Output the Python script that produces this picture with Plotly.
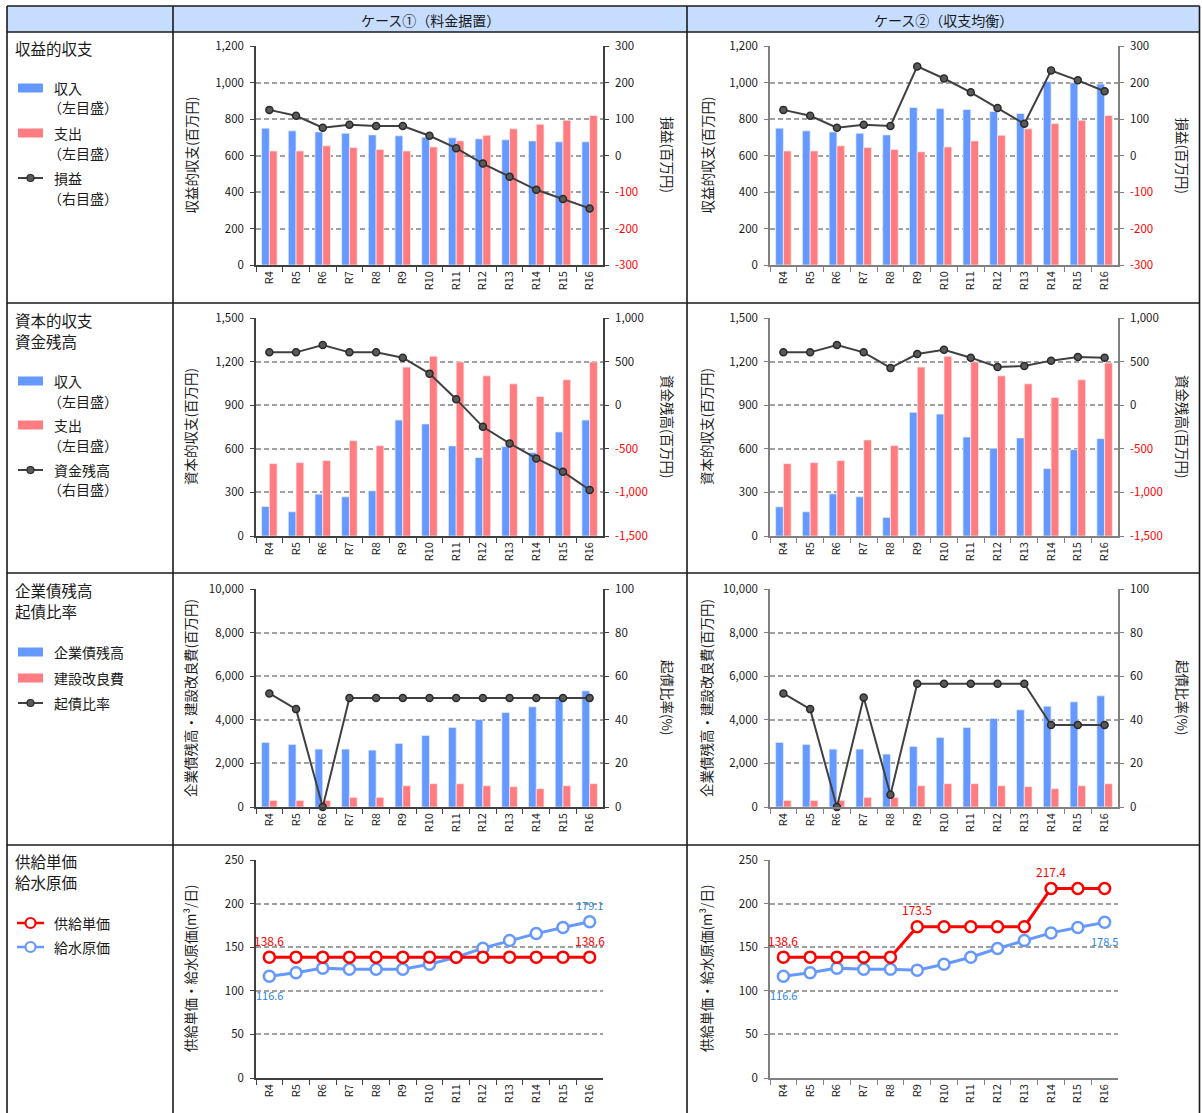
import plotly.graph_objects as go

W, H = 1202, 1113
FONT = "Noto Sans CJK JP, Noto Sans, sans-serif"
TXT = "#1a1a1a"
BLUE = "#6699FF"
PINK = "#FF7C80"
LINE_DARK = "#404040"
RED = "#FF0000"
LBL_BLUE = "#2F86D9"

years = ["R4", "R5", "R6", "R7", "R8", "R9", "R10", "R11", "R12", "R13", "R14", "R15", "R16"]
case_titles = ["ケース①（料金据置）", "ケース②（収支均衡）"]

# ---- Row 1: 収益的収支 ----
c1_rev_income = [750, 735, 729, 722, 713, 708, 700, 697, 691, 686, 680, 675, 675]
c1_rev_expense = [625, 625, 653, 644, 633, 625, 647, 680, 711, 746, 771, 793, 819]
c1_profit = [125, 109, 76, 84, 81, 81, 54, 20, -22, -58, -94, -119, -145]
c2_rev_income = [750, 735, 729, 722, 713, 863, 857, 852, 841, 830, 1005, 999, 992]
c2_rev_expense = [625, 625, 653, 644, 633, 620, 647, 680, 711, 746, 775, 793, 819]
c2_profit = [125, 109, 76, 84, 81, 244, 211, 173, 130, 87, 233, 206, 176]

# ---- Row 2: 資本的収支・資金残高 ----
c1_cap_income = [203, 167, 288, 270, 311, 798, 771, 620, 540, 615, 574, 716, 798]
c1_cap_expense = [498, 505, 519, 656, 622, 1162, 1237, 1198, 1102, 1047, 960, 1075, 1198]
c1_fund = [606, 606, 690, 606, 606, 545, 362, 69, -248, -438, -610, -762, -972]
c2_cap_income = [201, 167, 290, 270, 128, 851, 839, 681, 604, 675, 464, 594, 670]
c2_cap_expense = [498, 505, 519, 661, 622, 1162, 1237, 1198, 1102, 1047, 953, 1075, 1191]
c2_fund = [606, 606, 690, 606, 427, 587, 636, 545, 438, 450, 511, 553, 545]

# ---- Row 3: 企業債残高・起債比率 ----
c1_bond = [2962, 2870, 2656, 2656, 2611, 2916, 3282, 3649, 4015, 4336, 4595, 4962, 5328]
c1_construction = [305, 305, 305, 443, 443, 977, 1069, 1069, 977, 931, 840, 977, 1069]
c1_bond_ratio = [52.1, 44.9, 0.0, 50.0, 50.0, 50.0, 50.0, 50.0, 50.0, 50.0, 50.0, 50.0, 50.0]
c2_bond = [2962, 2870, 2656, 2656, 2427, 2779, 3191, 3649, 4061, 4458, 4626, 4824, 5099]
c2_construction = [305, 305, 305, 443, 443, 977, 1069, 1069, 977, 931, 840, 977, 1069]
c2_bond_ratio = [52.1, 44.9, 0.0, 50.2, 5.6, 56.5, 56.5, 56.5, 56.5, 56.5, 37.6, 37.6, 37.6]

# ---- Row 4: 供給単価・給水原価 ----
c1_supply_price = [138.6, 138.6, 138.6, 138.6, 138.6, 138.6, 138.6, 138.6, 138.6, 138.6, 138.6, 138.6, 138.6]
c1_water_cost = [116.6, 120.6, 126.0, 124.8, 124.8, 124.8, 130.5, 138.5, 148.9, 157.6, 165.6, 172.5, 179.1]
c2_supply_price = [138.6, 138.6, 138.6, 138.6, 138.6, 173.5, 173.5, 173.5, 173.5, 173.5, 217.4, 217.4, 217.4]
c2_water_cost = [116.6, 120.6, 126.0, 124.8, 124.8, 123.7, 130.5, 138.5, 148.5, 157.6, 166.4, 172.5, 178.5]

# labelled points: (index, position)
c1_supply_labels = [(0, "above"), (12, "above")]
c1_cost_labels = [(0, "below"), (12, "above")]
c2_supply_labels = [(0, "above"), (5, "above"), (10, "above")]
c2_cost_labels = [(0, "below"), (12, "below")]

# tick definitions
rev_left_ticks = [0, 200, 400, 600, 800, 1000, 1200]
rev_right_ticks = [-300, -200, -100, 0, 100, 200, 300]
cap_left_ticks = [0, 300, 600, 900, 1200, 1500]
cap_right_ticks = [-1500, -1000, -500, 0, 500, 1000]
bond_left_ticks = [0, 2000, 4000, 6000, 8000, 10000]
ratio_right_ticks = [0, 20, 40, 60, 80, 100]
price_left_ticks = [0, 50, 100, 150, 200, 250]

row_titles = [
    ("収益的収支(百万円)", "損益(百万円)"),
    ("資本的収支(百万円)", "資金残高(百万円)"),
    ("企業債残高・建設改良費(百万円)", "起債比率(%)"),
    ("供給単価・給水原価(m³/日)", None),
]


def px(x):
    return x / W


def py(y):
    return 1 - y / H


# plot areas in pixels
col_x = [(256, 603), (770, 1118)]
row_y = [(46, 265), (318, 536), (589, 807), (860, 1078)]
left_title_x = [190, 706]
right_title_x = [668, 1183]
axis_colors = ["#404040", "#808080"]

fig = go.Figure()
layout = {}
annotations = []
shapes = []


def tick_text(vals, red_neg):
    out = []
    for v in vals:
        s = f"{v:,}"
        if red_neg and v < 0:
            s = f'<span style="color:#FF0000">{s}</span>'
        out.append(s)
    return out


def make_axes(c, k, r, left_ticks, right_ticks):
    xn = c + 1
    yl = 2 * c + 1
    yr = 2 * c + 2
    xkey = "xaxis" if xn == 1 else f"xaxis{xn}"
    xref = "x" if xn == 1 else f"x{xn}"
    ylkey = "yaxis" if yl == 1 else f"yaxis{yl}"
    ylref = "y" if yl == 1 else f"y{yl}"
    yrkey = f"yaxis{yr}"
    yrref = f"y{yr}"
    x0, x1 = col_x[k]
    y0, y1 = row_y[r]
    ac = axis_colors[k]
    tf = dict(size=11.5, family=FONT, color=TXT)
    layout[xkey] = dict(
        domain=[px(x0), px(x1)], anchor=ylref, type="category",
        categoryarray=years, tickangle=-90, ticks="outside", tickson="boundaries",
        ticklen=5, tickcolor=ac, showline=True, linecolor=ac, linewidth=1.5,
        showgrid=False, zeroline=False, tickfont=dict(size=11, family=FONT, color=TXT),
        range=[-0.5, 12.5], automargin=False,
    )
    layout[ylkey] = dict(
        domain=[py(y1), py(y0)], anchor=xref,
        range=[left_ticks[0], left_ticks[-1]], tickvals=left_ticks,
        ticktext=tick_text(left_ticks, False), showgrid=True, gridcolor="#A0A0A0",
        griddash="5px,3px", gridwidth=1.6, showline=True, linecolor=ac, linewidth=1.5,
        ticks="outside", ticklen=4, tickcolor=ac, zeroline=False, tickfont=tf,
        ticklabelstandoff=4, automargin=False,
    )
    if right_ticks is not None:
        layout[yrkey] = dict(
            overlaying=ylref, side="right", anchor=xref,
            range=[right_ticks[0], right_ticks[-1]], tickvals=right_ticks,
            ticktext=tick_text(right_ticks, True), showgrid=False, showline=True,
            linecolor=ac, linewidth=1.5, ticks="outside", ticklen=4, tickcolor=ac,
            zeroline=False, tickfont=tf, ticklabelstandoff=4, automargin=False,
        )
    # titles
    lt, rt = row_titles[r]
    cy = (y0 + y1) / 2
    annotations.append(dict(
        xref="paper", yref="paper", x=px(left_title_x[k]), y=py(cy), text=lt,
        textangle=-90, showarrow=False, xanchor="center", yanchor="middle",
        font=dict(size=13.5, family=FONT, color=TXT),
    ))
    if rt is not None:
        annotations.append(dict(
            xref="paper", yref="paper", x=px(right_title_x[k]), y=py(cy), text=rt,
            textangle=90, showarrow=False, xanchor="center", yanchor="middle",
            font=dict(size=13.5, family=FONT, color=TXT),
        ))
    return xref, ylref, yrref


def bar_line_chart(c, k, r, income, expense, line, left_ticks, right_ticks):
    xref, ylref, yrref = make_axes(c, k, r, left_ticks, right_ticks)
    fig.add_trace(go.Bar(x=years, y=income, xaxis=xref, yaxis=ylref,
                         marker=dict(color=BLUE, line=dict(color="rgba(230,238,255,0.9)", width=0.8)),
                         showlegend=False))
    fig.add_trace(go.Bar(x=years, y=expense, xaxis=xref, yaxis=ylref,
                         marker=dict(color=PINK, line=dict(color="rgba(255,235,235,0.9)", width=0.8)),
                         showlegend=False))
    fig.add_trace(go.Scatter(x=years, y=line, xaxis=xref, yaxis=yrref, mode="lines+markers",
                             line=dict(color=LINE_DARK, width=2),
                             marker=dict(size=7, color="#5A5A5A", line=dict(color="#2A2A2A", width=1.5)),
                             showlegend=False, cliponaxis=False))


def price_chart(c, k, r, supply, cost, supply_lbl, cost_lbl):
    xref, ylref, _ = make_axes(c, k, r, price_left_ticks, None)
    for vals, col in ((cost, BLUE), (supply, RED)):
        fig.add_trace(go.Scatter(x=years, y=vals, xaxis=xref, yaxis=ylref, mode="lines+markers",
                                 line=dict(color=col, width=3),
                                 marker=dict(size=11, color="white", line=dict(color=col, width=2.5)),
                                 showlegend=False, cliponaxis=False))
    for vals, lbls, col, fs in ((supply, supply_lbl, RED, 12), (cost, cost_lbl, LBL_BLUE, 11)):
        for i, pos in lbls:
            annotations.append(dict(
                xref=xref, yref=ylref, x=years[i], y=vals[i], text=f"{vals[i]:.1f}",
                showarrow=False, yshift=17 if pos == "above" else -19,
                font=dict(size=fs, family=FONT, color=col),
            ))


bar_line_chart(0, 0, 0, c1_rev_income, c1_rev_expense, c1_profit, rev_left_ticks, rev_right_ticks)
bar_line_chart(1, 1, 0, c2_rev_income, c2_rev_expense, c2_profit, rev_left_ticks, rev_right_ticks)
bar_line_chart(2, 0, 1, c1_cap_income, c1_cap_expense, c1_fund, cap_left_ticks, cap_right_ticks)
bar_line_chart(3, 1, 1, c2_cap_income, c2_cap_expense, c2_fund, cap_left_ticks, cap_right_ticks)
bar_line_chart(4, 0, 2, c1_bond, c1_construction, c1_bond_ratio, bond_left_ticks, ratio_right_ticks)
bar_line_chart(5, 1, 2, c2_bond, c2_construction, c2_bond_ratio, bond_left_ticks, ratio_right_ticks)
price_chart(6, 0, 3, c1_supply_price, c1_water_cost, c1_supply_labels, c1_cost_labels)
price_chart(7, 1, 3, c2_supply_price, c2_water_cost, c2_supply_labels, c2_cost_labels)

# ---- table frame ----
shapes.append(dict(type="rect", xref="paper", yref="paper", x0=px(7), x1=px(1199.5), y0=py(32), y1=py(6),
                   fillcolor="#C6DDFF", line=dict(width=0), layer="below"))
BORDER = dict(color="#1a1a1a", width=1.6)
for xv in (7, 173, 687, 1199.5):
    shapes.append(dict(type="line", xref="paper", yref="paper", x0=px(xv), x1=px(xv),
                       y0=py(6), y1=0, line=BORDER))
for yv in (6, 32, 303, 573, 845):
    shapes.append(dict(type="line", xref="paper", yref="paper", x0=px(7), x1=px(1199.5),
                       y0=py(yv), y1=py(yv), line=BORDER))

for k, t in enumerate(case_titles):
    cx = (173 + 687) / 2 if k == 0 else (687 + 1199.5) / 2
    annotations.append(dict(xref="paper", yref="paper", x=px(cx), y=py(19.5), text=t, showarrow=False,
                            xanchor="center", yanchor="middle", font=dict(size=14, family=FONT, color=TXT)))

# ---- left column: section titles and legends ----
section_titles = [
    (["収益的収支"], 48),
    (["資本的収支", "資金残高"], 320),
    (["企業債残高", "起債比率"], 590),
    (["供給単価", "給水原価"], 861),
]
for lines, y in section_titles:
    for j, s in enumerate(lines):
        annotations.append(dict(xref="paper", yref="paper", x=px(13), y=py(y + 21 * j), text=s,
                                showarrow=False, xanchor="left", yanchor="middle",
                                font=dict(size=15.5, family=FONT, color=TXT)))

legend_items = [
    ("bar", BLUE, ["収入", "（左目盛）"], 88),
    ("bar", PINK, ["支出", "（左目盛）"], 133),
    ("dot", LINE_DARK, ["損益", "（右目盛）"], 178),
    ("bar", BLUE, ["収入", "（左目盛）"], 381),
    ("bar", PINK, ["支出", "（左目盛）"], 425),
    ("dot", LINE_DARK, ["資金残高", "（右目盛）"], 470),
    ("bar", BLUE, ["企業債残高"], 652),
    ("bar", PINK, ["建設改良費"], 678),
    ("dot", LINE_DARK, ["起債比率"], 703),
    ("ring", RED, ["供給単価"], 923),
    ("ring", BLUE, ["給水原価"], 947),
]
for kind, col, lines, y in legend_items:
    if kind == "bar":
        shapes.append(dict(type="rect", xref="paper", yref="paper", x0=px(18), x1=px(43),
                           y0=py(y + 4.5), y1=py(y - 4.5), fillcolor=col, line=dict(width=0)))
    elif kind == "dot":
        shapes.append(dict(type="line", xref="paper", yref="paper", x0=px(18), x1=px(43),
                           y0=py(y), y1=py(y), line=dict(color=col, width=2)))
        shapes.append(dict(type="circle", xref="paper", yref="paper", x0=px(27), x1=px(34),
                           y0=py(y + 3.5), y1=py(y - 3.5), fillcolor="#5A5A5A",
                           line=dict(color="#2A2A2A", width=1.2)))
    else:
        shapes.append(dict(type="line", xref="paper", yref="paper", x0=px(17), x1=px(44),
                           y0=py(y), y1=py(y), line=dict(color=col, width=2.5)))
        shapes.append(dict(type="circle", xref="paper", yref="paper", x0=px(25.5), x1=px(35.5),
                           y0=py(y + 5), y1=py(y - 5), fillcolor="white",
                           line=dict(color=col, width=2.2)))
    for j, s in enumerate(lines):
        xt = 52 if not s.startswith("（") else 46
        annotations.append(dict(xref="paper", yref="paper", x=px(xt), y=py(y + 19.5 * j), text=s,
                                showarrow=False, xanchor="left", yanchor="middle",
                                font=dict(size=14, family=FONT, color=TXT)))

layout.update(
    width=W, height=H, autosize=False,
    margin=dict(l=0, r=0, t=0, b=0, pad=0, autoexpand=False),
    paper_bgcolor="white", plot_bgcolor="white",
    barmode="group", bargap=0.42, bargroupgap=0,
    font=dict(family=FONT, color=TXT),
    showlegend=False,
    annotations=annotations, shapes=shapes,
)
fig.update_layout(**layout)

post = ("document.documentElement.style.margin='0';document.body.style.margin='0';"
        "document.body.style.padding='0';document.body.style.overflow='hidden';"
        "var gd=document.getElementById('{plot_id}');gd.style.position='fixed';"
        "gd.style.top='0px';gd.style.left='0px';")
fig.write_html("out.html", config={"displayModeBar": False}, post_script=post)
